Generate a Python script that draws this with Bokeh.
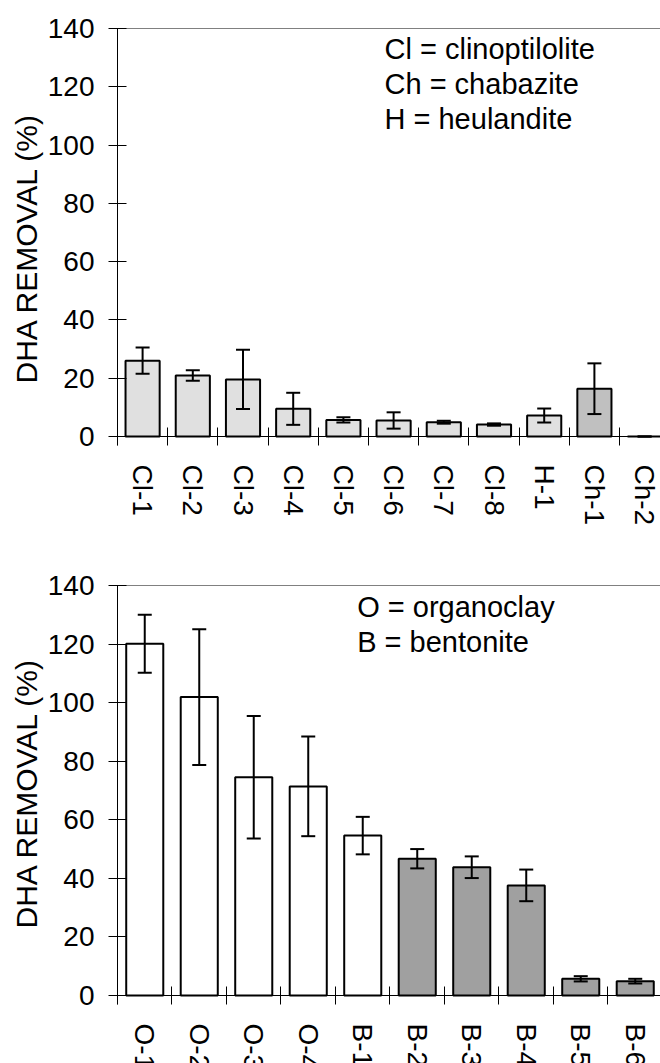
import numpy as np
from bokeh.plotting import figure
from bokeh.models import (ColumnDataSource, FixedTicker, LinearAxis, Range1d,
                          Whisker, TeeHead, Label, Title)
from bokeh.layouts import column
from bokeh.embed import file_html
from bokeh.resources import INLINE

FONT = "Liberation Sans"

# ---------------- data: top panel (zeolites) ----------------
top_cats = ["Cl-1", "Cl-2", "Cl-3", "Cl-4", "Cl-5", "Cl-6", "Cl-7", "Cl-8", "H-1", "Ch-1", "Ch-2"]
top_vals = [26.0, 20.9, 19.6, 9.5, 5.7, 5.5, 4.9, 4.1, 7.2, 16.4, 0.0]
top_errs = [4.5, 1.8, 10.2, 5.5, 0.9, 2.8, 0.5, 0.4, 2.4, 8.7, 0.0]
top_groups = ["Cl", "Cl", "Cl", "Cl", "Cl", "Cl", "Cl", "Cl", "H", "Ch", "Ch"]
top_legend = ["Cl = clinoptilolite", "Ch = chabazite", "H = heulandite"]

# ---------------- data: bottom panel (clays) ----------------
bot_cats = ["O-1", "O-2", "O-3", "O-4", "B-1", "B-2", "B-3", "B-4", "B-5", "B-6"]
bot_vals = [120.1, 101.9, 74.5, 71.4, 54.6, 46.7, 43.8, 37.6, 5.7, 4.9]
bot_errs = [9.9, 23.2, 20.9, 17.0, 6.4, 3.3, 3.7, 5.4, 0.9, 0.8]
bot_groups = ["O", "O", "O", "O", "O", "B", "B", "B", "B", "B"]
bot_legend = ["O = organoclay", "B = bentonite"]

y_ticks = [0, 20, 40, 60, 80, 100, 120, 140]
y_max = 140
y_title = "DHA REMOVAL  (%)"

FILL = {"Cl": "#e0e0e0", "H": "#e0e0e0", "Ch": "#c0c0c0", "O": "#ffffff", "B": "#a0a0a0"}

W = 660


def make_panel(cats, vals, errs, groups, legend, *, height, frame_left, frame_top,
               frame_zero, slot, leg_left, leg_base, leg_dy, title_bottom):
    n = len(cats)
    centers = list(np.arange(n) + 0.5)
    bounds = list(np.arange(n + 1).astype(float))
    src = ColumnDataSource(dict(
        x=centers, top=vals,
        upper=[v + e for v, e in zip(vals, errs)],
        lower=[v - e for v, e in zip(vals, errs)],
        fill=[FILL[g] for g in groups], cat=cats))

    scale = (frame_zero - frame_top) / y_max          # px per unit
    y_start = -(height - frame_zero) / scale
    x_end = (W - frame_left) / slot

    p = figure(width=W, height=height, x_range=Range1d(0, x_end),
               y_range=Range1d(y_start, y_max), output_backend="svg",
               toolbar_location=None, min_border_left=frame_left,
               min_border_right=0, min_border_top=frame_top,
               min_border_bottom=0)
    p.outline_line_color = None
    p.grid.visible = False

    p.vbar(x="x", top="top", bottom=0, width=0.68, source=src,
           fill_color="fill", line_color="black", line_width=2)
    p.add_layout(Whisker(base="x", upper="upper", lower="lower", source=src,
                         line_color="black", line_width=2, level="overlay",
                         upper_head=TeeHead(size=14, line_width=2, line_color="black"),
                         lower_head=TeeHead(size=14, line_width=2, line_color="black")))

    # y axis
    ya = p.yaxis[0]
    ya.ticker = FixedTicker(ticks=y_ticks, minor_ticks=[])
    ya.bounds = (-9 / scale, y_max)
    ya.major_tick_in = 9
    ya.major_tick_out = 9
    ya.major_tick_line_color = "black"
    ya.axis_line_color = "black"
    ya.axis_line_width = 1
    ya.major_label_standoff = 14
    ya.major_label_text_font = FONT
    ya.major_label_text_font_size = "28px"
    ya.major_label_text_color = "black"

    # y-axis title placed along the left side
    p.add_layout(Title(text=y_title, align="left", offset=title_bottom,
                       text_font=FONT, text_font_size="30px",
                       text_font_style="normal", text_color="black",
                       standoff=4), "left")

    # x axis drawn at y = 0: boundary ticks as minor ticks, labels at centres
    xa = p.xaxis[0]
    xa.fixed_location = 0
    xa.ticker = FixedTicker(ticks=centers, minor_ticks=bounds)
    xa.axis_line_color = "black"
    xa.major_tick_line_color = None
    xa.major_tick_in = 0
    xa.major_tick_out = 0
    xa.minor_tick_in = 9
    xa.minor_tick_out = 9
    xa.minor_tick_line_color = "black"
    xa.major_label_overrides = {c: t for c, t in zip(centers, cats)}
    xa.major_label_orientation = "vertical"
    xa.major_label_standoff = 19
    xa.major_label_text_font = FONT
    xa.major_label_text_font_size = "28px"
    xa.major_label_text_color = "black"

    # grey top border
    top_ax = LinearAxis(ticker=FixedTicker(ticks=[], minor_ticks=[]),
                        axis_line_color="#808080", major_label_text_font_size="0px",
                        major_tick_line_color=None, minor_tick_line_color=None)
    p.add_layout(top_ax, "above")

    lx = (leg_left - frame_left) / slot
    for i, line in enumerate(legend):
        ly = (frame_zero - (leg_base + i * leg_dy)) / scale
        p.add_layout(Label(x=lx, y=ly, text=line,
                           text_font=FONT, text_font_size="29px", text_color="black",
                           text_baseline="alphabetic", text_align="left"))
    return p


p1 = make_panel(top_cats, top_vals, top_errs, top_groups, top_legend,
                height=558, frame_left=117, frame_top=28, frame_zero=436,
                slot=50.2, leg_left=384, leg_base=48, leg_dy=35, title_bottom=175)
p2 = make_panel(bot_cats, bot_vals, bot_errs, bot_groups, bot_legend,
                height=505, frame_left=114, frame_top=27, frame_zero=437,
                slot=54.8, leg_left=355, leg_base=48, leg_dy=35, title_bottom=135)

layout = column(p1, p2, spacing=0)
open("out.html", "w").write(file_html(layout, INLINE))
